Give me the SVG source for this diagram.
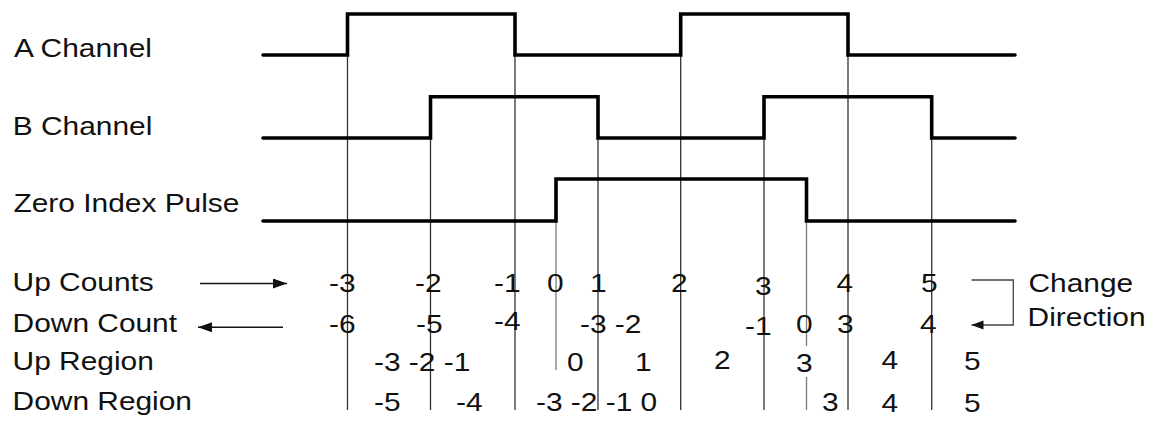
<svg xmlns="http://www.w3.org/2000/svg" width="1151" height="423" viewBox="0 0 1151 423">
<style>
text{font-family:"Liberation Sans",Arial,Helvetica,sans-serif;font-size:26px;fill:#111}
.sig{fill:none;stroke:#000;stroke-width:3.6;stroke-linejoin:miter;stroke-linecap:round}
.grid{stroke:#333;stroke-width:1.3}
.gridz{stroke:#7a7a7a;stroke-width:1.3}
.arr{fill:none;stroke:#111;stroke-width:1.6}
.arr2{fill:none;stroke:#444;stroke-width:1.3}
</style>
<defs>
<marker id="ah" markerUnits="userSpaceOnUse" markerWidth="15" markerHeight="11" refX="14" refY="5" orient="auto"><path d="M0,0 L14,5 L0,10 z" fill="#111"/></marker>
<marker id="ah2" markerUnits="userSpaceOnUse" markerWidth="13" markerHeight="10" refX="12" refY="4.5" orient="auto"><path d="M0,0 L12,4.5 L0,9 z" fill="#111"/></marker>
</defs>
<rect width="1151" height="423" fill="#fff"/>
<g id="connectors">
<line class="grid" x1="347.5" y1="55" x2="347.5" y2="410"/>
<line class="grid" x1="430.5" y1="138" x2="430.5" y2="410"/>
<line class="grid" x1="515" y1="55" x2="515" y2="410"/>
<line class="gridz" x1="556" y1="221" x2="556" y2="370"/>
<line class="grid" x1="598" y1="138" x2="598" y2="410"/>
<line class="grid" x1="680.7" y1="55" x2="680.7" y2="410"/>
<line class="grid" x1="764" y1="138" x2="764" y2="410"/>
<line class="gridz" x1="806.5" y1="221" x2="806.5" y2="346"/>
<line class="gridz" x1="806.5" y1="377" x2="806.5" y2="410"/>
<line class="grid" x1="848" y1="55" x2="848" y2="410"/>
<line class="grid" x1="931.7" y1="138" x2="931.7" y2="410"/>
<line class="arr" x1="200" y1="283.5" x2="287" y2="283.5" marker-end="url(#ah)"/>
<line class="arr" x1="283" y1="327.3" x2="198" y2="327.3" marker-end="url(#ah)"/>
<path class="arr2" d="M971.5,280 H1013.3 V325 H971.5" marker-end="url(#ah2)"/>
</g>
<g id="a-channel">
<path class="sig" d="M263,55 H347.5 V14 H515 V55 H680.7 V14 H848 V55 H1015"/>
<text transform="translate(14,57) scale(1.15,1)">A Channel</text>
</g>
<g id="b-channel">
<path class="sig" d="M263,138 H430.5 V96.7 H598 V138 H764 V96.7 H931.7 V138 H1015"/>
<text transform="translate(12.8,135) scale(1.15,1)">B Channel</text>
</g>
<g id="zero-index">
<path class="sig" d="M263,221 H556 V179 H806.5 V221 H1015"/>
<text transform="translate(13.5,212) scale(1.15,1)">Zero Index Pulse</text>
</g>
<g id="up-counts">
<text transform="translate(12.6,291) scale(1.15,1)">Up Counts</text>
<text transform="translate(329,291.5) scale(1.15,1)">-3</text>
<text transform="translate(415,291.5) scale(1.15,1)">-2</text>
<text transform="translate(494,291.5) scale(1.15,1)">-1</text>
<text transform="translate(547,291.5) scale(1.15,1)">0</text>
<text transform="translate(590,291.5) scale(1.15,1)">1</text>
<text transform="translate(671,291.5) scale(1.15,1)">2</text>
<text transform="translate(755,295) scale(1.15,1)">3</text>
<text transform="translate(836.5,291.5) scale(1.15,1)">4</text>
<text transform="translate(921,291.5) scale(1.15,1)">5</text>
</g>
<g id="down-count">
<text transform="translate(12.6,331.5) scale(1.15,1)">Down Count</text>
<text transform="translate(329,333) scale(1.15,1)">-6</text>
<text transform="translate(416,333) scale(1.15,1)">-5</text>
<text transform="translate(494,330) scale(1.15,1)">-4</text>
<text transform="translate(580,333) scale(1.15,1)">-3 -2</text>
<text transform="translate(745,335) scale(1.15,1)">-1</text>
<text transform="translate(796,333) scale(1.15,1)">0</text>
<text transform="translate(837,333) scale(1.15,1)">3</text>
<text transform="translate(920,333) scale(1.15,1)">4</text>
</g>
<g id="up-region">
<text transform="translate(12.6,370) scale(1.15,1)">Up Region</text>
<text transform="translate(374,371) scale(1.15,1)">-3 -2 -1</text>
<text transform="translate(567,371) scale(1.15,1)">0</text>
<text transform="translate(635,371) scale(1.15,1)">1</text>
<text transform="translate(714,369) scale(1.15,1)">2</text>
<text transform="translate(796,372) scale(1.15,1)">3</text>
<text transform="translate(881.5,369) scale(1.15,1)">4</text>
<text transform="translate(964,370) scale(1.15,1)">5</text>
</g>
<g id="down-region">
<text transform="translate(12.6,409.5) scale(1.15,1)">Down Region</text>
<text transform="translate(374,410.5) scale(1.15,1)">-5</text>
<text transform="translate(456,410.5) scale(1.15,1)">-4</text>
<text transform="translate(536,410.5) scale(1.15,1)">-3 -2 -1 0</text>
<text transform="translate(822,410.5) scale(1.15,1)">3</text>
<text transform="translate(881.5,412) scale(1.15,1)">4</text>
<text transform="translate(964,412) scale(1.15,1)">5</text>
</g>
<g id="change-direction">
<text transform="translate(1028.5,291.7) scale(1.15,1)">Change</text>
<text transform="translate(1027.6,326) scale(1.15,1)">Direction</text>
</g>
</svg>
